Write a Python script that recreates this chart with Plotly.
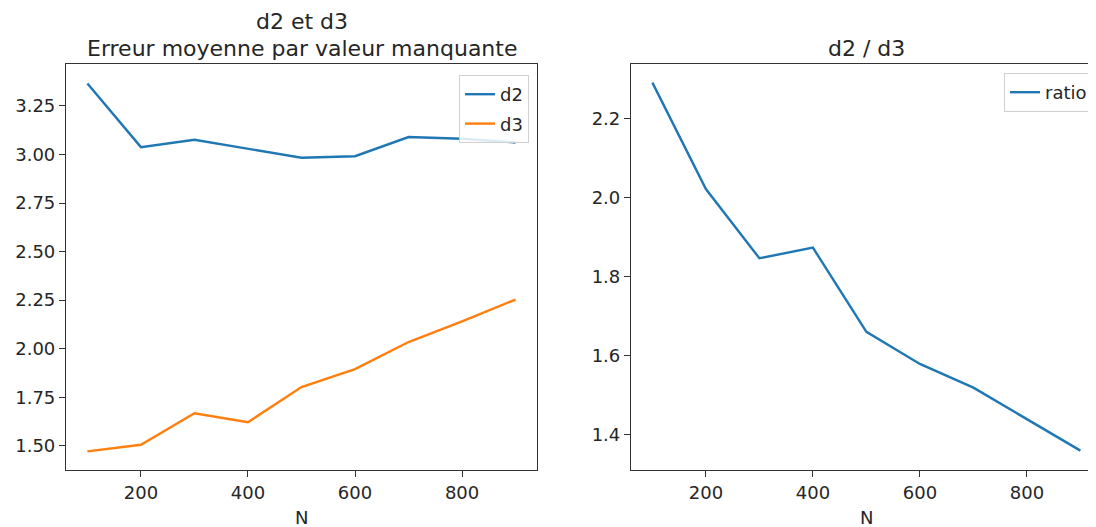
import plotly.graph_objects as go

N = [100, 200, 300, 400, 500, 600, 700, 800, 900]
d2 = [3.366, 3.038, 3.076, 3.031, 2.983, 2.991, 3.090, 3.081, 3.062]
d3 = [1.471, 1.505, 1.667, 1.621, 1.802, 1.895, 2.034, 2.141, 2.253]
ratio = [2.290, 2.021, 1.846, 1.873, 1.660, 1.579, 1.519, 1.440, 1.360]

left_ticks = [1.50, 1.75, 2.00, 2.25, 2.50, 2.75, 3.00, 3.25]
right_ticks = [1.4, 1.6, 1.8, 2.0, 2.2]
x_ticks = [200, 400, 600, 800]

OFF = 8  # page body margin
W, H = 1096 - OFF, 527 - OFF
FONT = "DejaVu Sans"
TXT = "#262626"
AX = "#333333"

def px(x):
    return (x - OFF) / W

def py(y):
    return (H - (y - OFF)) / H

fig = go.Figure()
fig.add_trace(go.Scatter(x=N, y=d2, mode="lines", name="d2", legendgroup="a",
                         line=dict(color="#1f77b4", width=2.4),
                         xaxis="x", yaxis="y", legend="legend"))
fig.add_trace(go.Scatter(x=N, y=d3, mode="lines", name="d3", legendgroup="b",
                         line=dict(color="#ff7f0e", width=2.4),
                         xaxis="x", yaxis="y", legend="legend"))
fig.add_trace(go.Scatter(x=N, y=ratio, mode="lines", name="ratio",
                         line=dict(color="#1f77b4", width=2.4),
                         xaxis="x2", yaxis="y2", legend="legend2"))

axis_common = dict(showgrid=False, zeroline=False, showline=True,
                   linecolor=AX, linewidth=1.2, ticks="outside",
                   ticklen=6, tickwidth=1.2, tickcolor=AX,
                   tickfont=dict(family=FONT, size=18, color=TXT))

x2_right = 60 + (1096 - 631) / 0.535

fig.update_layout(
    width=W, height=H,
    margin=dict(l=0, r=0, t=0, b=0),
    paper_bgcolor="white", plot_bgcolor="white",
    font=dict(family=FONT, size=18, color=TXT),
    xaxis=dict(domain=[px(66), px(537)], range=[60, 940],
               tickvals=x_ticks, mirror=True, anchor="y", **axis_common),
    yaxis=dict(domain=[py(470), py(64)], range=[1.375, 3.466],
               tickvals=left_ticks, tickformat=".2f", mirror=True,
               anchor="x", **axis_common),
    xaxis2=dict(domain=[px(631), 1.0], range=[60, x2_right],
                tickvals=x_ticks, mirror=True, anchor="y2", **axis_common),
    yaxis2=dict(domain=[py(470), py(64)], range=[1.311, 2.337],
                tickvals=right_ticks, tickformat=".1f", mirror=False,
                anchor="x2", **axis_common),
    legend=dict(x=px(529), y=py(75), xanchor="right", yanchor="top",
                bgcolor="rgba(255,255,255,0.85)", bordercolor="#d0d0d0",
                borderwidth=1, tracegroupgap=3,
                font=dict(family=FONT, size=18, color=TXT)),
    legend2=dict(x=px(1093), y=py(73), xanchor="right", yanchor="top",
                 bgcolor="rgba(255,255,255,0.85)", bordercolor="#d0d0d0",
                 borderwidth=1, font=dict(family=FONT, size=18, color=TXT)),
    showlegend=True,
)

annotations = [
    dict(text="d2 et d3", x=px(301.5), y=py(21), xref="paper", yref="paper",
         xanchor="center", yanchor="middle", showarrow=False,
         font=dict(family=FONT, size=22, color=TXT)),
    dict(text="Erreur moyenne par valeur manquante",
         x=px(301.5), y=py(48), xref="paper", yref="paper",
         xanchor="center", yanchor="middle", showarrow=False,
         font=dict(family=FONT, size=22, color=TXT)),
    dict(text="d2 / d3", x=px(866), y=py(48), xref="paper", yref="paper",
         xanchor="center", yanchor="middle", showarrow=False,
         font=dict(family=FONT, size=22, color=TXT)),
    dict(text="N", x=px(301.5), y=py(517), xref="paper", yref="paper",
         xanchor="center", yanchor="middle", showarrow=False,
         font=dict(family=FONT, size=18, color=TXT)),
    dict(text="N", x=px(866), y=py(517), xref="paper", yref="paper",
         xanchor="center", yanchor="middle", showarrow=False,
         font=dict(family=FONT, size=18, color=TXT)),
]
fig.update_layout(annotations=annotations)

fig.write_html("out.html")
